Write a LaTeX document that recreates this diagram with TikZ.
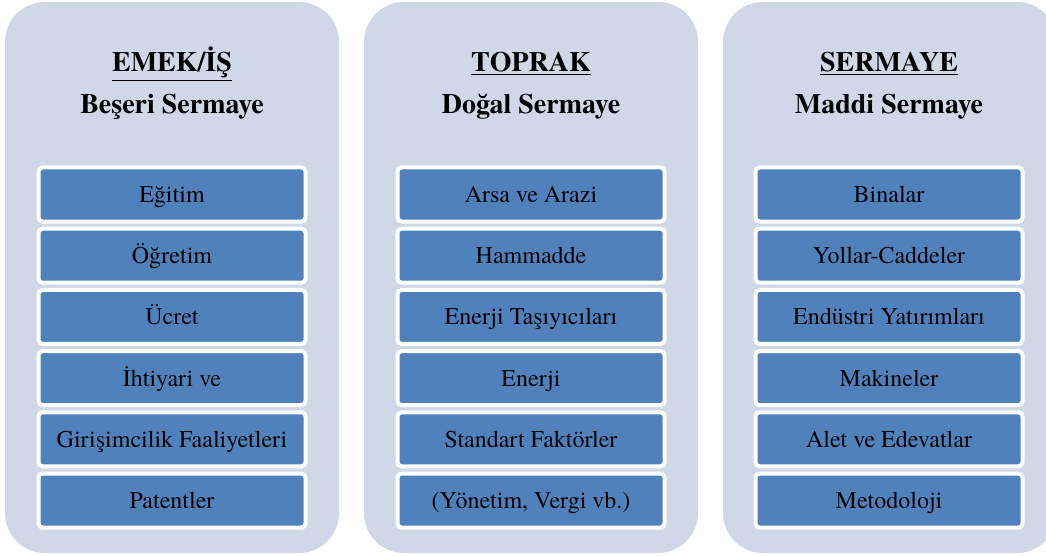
\documentclass[tikz,border=0pt]{standalone}
\usepackage{fontspec}
\setmainfont{texgyretermes}[Extension=.otf, UprightFont=*-regular, BoldFont=*-bold, ItalicFont=*-italic, BoldItalicFont=*-bolditalic]
\definecolor{colbg}{HTML}{D0D8E8}
\definecolor{boxblue}{HTML}{4F81BD}
\begin{document}
\begin{tikzpicture}[x=1pt,y=-1pt,
  colpanel/.style={fill=colbg, rounded corners=40pt, minimum width=334pt, minimum height=551pt, inner sep=0pt},
  itembox/.style={fill=boxblue, draw=white, line width=4pt, rounded corners=4pt, minimum width=267pt, minimum height=54pt, inner sep=0pt, text height=17pt, text depth=1pt, font=\fontsize{24}{26}\selectfont, text=black},
  hdr/.style={anchor=base, font=\fontsize{28}{30}\selectfont\bfseries},
]
\useasboundingbox (0,0) rectangle (1046,556);
\clip (0,0) rectangle (1046,556);
\node[colpanel] (c1) at (172,277.5) {};
\node[colpanel] (c2) at (531,277.5) {};
\node[colpanel] (c3) at (890,277.5) {};
\node[hdr] (t1) at (172,72) {\underline{EMEK/İŞ}};
\node[hdr] (s1) at (172,114) {Beşeri Sermaye};
\node[hdr] (t2) at (531,72) {\underline{TOPRAK}};
\node[hdr] (s2) at (531,114) {Doğal Sermaye};
\node[hdr] (t3) at (889,72) {\underline{SERMAYE}};
\node[hdr] (s3) at (889,114) {Maddi Sermaye};
\foreach \t [count=\i] in {Eğitim, Öğretim, Ücret, İhtiyari ve, Girişimcilik Faaliyetleri, Patentler}
  \node[itembox] (a\i) at (172,{194.5+61.2*(\i-1)}) {\t};
\foreach \t [count=\i] in {Arsa ve Arazi, Hammadde, Enerji Taşıyıcıları, Enerji, Standart Faktörler, {(Yönetim, Vergi vb.)}}
  \node[itembox] (b\i) at (531,{194.5+61.2*(\i-1)}) {\t};
\foreach \t [count=\i] in {Binalar, Yollar-Caddeler, Endüstri Yatırımları, Makineler, Alet ve Edevatlar, Metodoloji}
  \node[itembox] (d\i) at (889,{194.5+61.2*(\i-1)}) {\t};
\end{tikzpicture}
\end{document}
